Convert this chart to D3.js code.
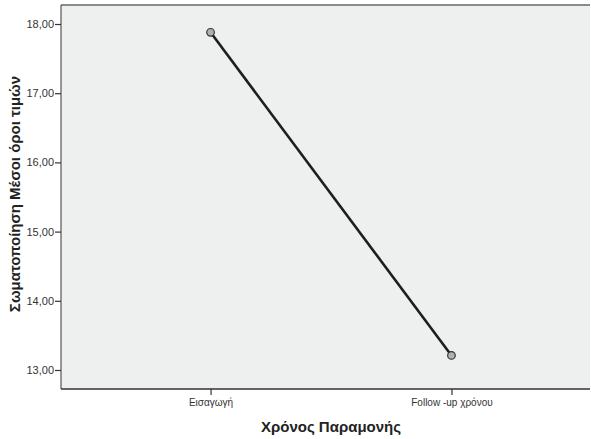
<!DOCTYPE html>
<html>
<head>
<meta charset="utf-8">
<script src="https://cdn.jsdelivr.net/npm/d3@7"></script>
<style>
  body { margin: 0; background: #fff; }
  svg { display: block; font-family: "Liberation Sans", Arial, sans-serif; }
</style>
</head>
<body>
<div id="main-container"></div>
<script>
// Data
const CATEGORIES = ['Εισαγωγή', 'Follow -up χρόνου'];
const MEANS = [17.88, 13.21];
const Y_TICKS = [13, 14, 15, 16, 17, 18];
const X_TITLE = 'Χρόνος Παραμονής';
const Y_TITLE = 'Σωματοποίηση Μέσοι όροι τιμών';

const SVG_WIDTH = 591;
const SVG_HEIGHT = 439;
const PLOT = { left: 61, right: 590, top: 5, bottom: 389 };

const SVG = d3.select('#main-container').append('svg')
    .attr('width', SVG_WIDTH)
    .attr('height', SVG_HEIGHT);

// Plot background
SVG.append('rect')
    .attr('x', PLOT.left)
    .attr('y', PLOT.top)
    .attr('width', PLOT.right - PLOT.left)
    .attr('height', PLOT.bottom - PLOT.top)
    .attr('fill', '#eef0ef');

// Scales
const X_SCALE = d3.scalePoint()
    .domain(CATEGORIES)
    .range([66, 596])
    .padding(0.6);
const Y_SCALE = d3.scaleLinear()
    .domain([13, 18])
    .range([370, 24]);

// Frame lines
SVG.append('line')
    .attr('x1', PLOT.left).attr('x2', PLOT.right)
    .attr('y1', PLOT.top).attr('y2', PLOT.top)
    .attr('stroke', '#666').attr('stroke-width', 1.5);

// Axes
const Y_AXIS = d3.axisLeft(Y_SCALE)
    .tickValues(Y_TICKS)
    .tickSize(6)
    .tickSizeOuter(0)
    .tickFormat(d => d3.format('.2f')(d).replace('.', ','));
const yG = SVG.append('g')
    .attr('transform', `translate(${PLOT.left},0)`)
    .call(Y_AXIS);
yG.select('.domain').attr('d', `M0,${PLOT.top}V${PLOT.bottom}`).attr('stroke', '#555').attr('stroke-width', 1.2);
yG.selectAll('.tick line').attr('stroke', '#333').attr('stroke-width', 1.2);
yG.selectAll('.tick text')
    .attr('x', -7)
    .attr('fill', '#333')
    .style('font-size', '11px');

const X_AXIS = d3.axisBottom(X_SCALE)
    .tickSize(6)
    .tickSizeOuter(0);
const xG = SVG.append('g')
    .attr('transform', `translate(0,${PLOT.bottom})`)
    .call(X_AXIS);
xG.select('.domain').attr('d', `M${PLOT.left},0H${PLOT.right}`).attr('stroke', '#333').attr('stroke-width', 1.5);
xG.selectAll('.tick line').attr('stroke', '#333').attr('stroke-width', 1.2);
xG.selectAll('.tick text')
    .attr('y', 10)
    .attr('fill', '#333')
    .style('font-size', '10px');

// Axis titles
SVG.append('text')
    .attr('x', 331)
    .attr('y', 432)
    .attr('text-anchor', 'middle')
    .style('font-size', '15px')
    .style('font-weight', 'bold')
    .attr('fill', '#222')
    .text(X_TITLE);

SVG.append('text')
    .attr('transform', `translate(19.5,194) rotate(-90)`)
    .attr('text-anchor', 'middle')
    .style('font-size', '15px')
    .style('font-weight', 'bold')
    .attr('fill', '#222')
    .text(Y_TITLE);

// Line and markers
const POINTS = CATEGORIES.map((c, i) => ({ cat: c, value: MEANS[i] }));
SVG.append('path')
    .datum(POINTS)
    .attr('fill', 'none')
    .attr('stroke', '#1e1e1e')
    .attr('stroke-width', 2.6)
    .attr('d', d3.line().x(d => X_SCALE(d.cat)).y(d => Y_SCALE(d.value)));

SVG.selectAll('circle.marker')
    .data(POINTS).enter()
    .append('circle')
    .attr('class', 'marker')
    .attr('cx', d => X_SCALE(d.cat))
    .attr('cy', d => Y_SCALE(d.value))
    .attr('r', 3.8)
    .attr('fill', '#b0b0b0')
    .attr('stroke', '#333')
    .attr('stroke-width', 1.2);
</script>
</body>
</html>
